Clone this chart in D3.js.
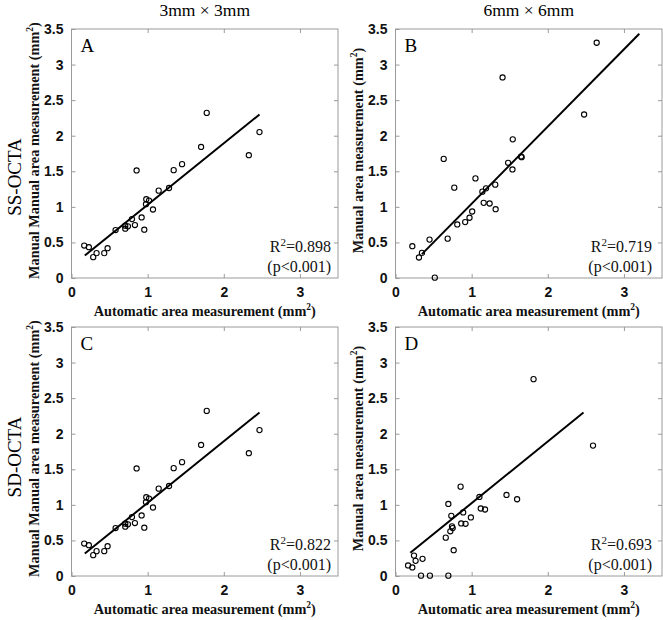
<!DOCTYPE html>
<html><head><meta charset="utf-8">
<script src="https://cdn.jsdelivr.net/npm/d3@7"></script>
<style>body{margin:0;background:#fff}svg{display:block}</style>
</head><body>
<svg id="c" width="663" height="620"></svg>
<script>
// ---------- data ----------
const xTicks = [0, 1, 2, 3];
const yTicks = [0, 0.5, 1, 1.5, 2, 2.5, 3, 3.5];
const columnTitles = ["3mm \u00d7 3mm", "6mm \u00d7 6mm"];
const rowTitles = ["SS-OCTA", "SD-OCTA"];
const panelLetters = ["A", "B", "C", "D"];
const r2Values = ["0.898", "0.719", "0.822", "0.693"];
const pValues = ["(p<0.001)", "(p<0.001)", "(p<0.001)", "(p<0.001)"];
const yTitles = ["Manual Manual area measurement (mm", "Manual area measurement (mm",
                 "Manual Manual area measurement (mm", "Manual area measurement (mm"];
const xTitle = "Automatic area measurement (mm";

const pointsA = [[0.167,0.456],[0.228,0.433],[0.285,0.293],[0.329,0.349],[0.43,0.349],[0.474,0.419],
  [0.579,0.674],[0.706,0.693],[0.706,0.735],[0.741,0.726],[0.794,0.828],[0.833,0.744],[0.855,1.512],
  [0.921,0.851],[0.956,0.679],[0.978,1.037],[0.982,1.107],[1.018,1.088],[1.07,0.963],[1.145,1.228],
  [1.281,1.265],[1.342,1.516],[1.452,1.6],[1.702,1.842],[1.776,2.321],[2.329,1.726],[2.469,2.051]];
const pointsB = [[0.221,0.447],[0.308,0.288],[0.347,0.353],[0.447,0.54],[0.516,0.005],[0.633,1.674],
  [0.685,0.553],[0.772,1.27],[0.811,0.753],[0.915,0.786],[0.972,0.847],[1.007,0.935],[1.05,1.4],
  [1.141,1.214],[1.158,1.056],[1.189,1.26],[1.236,1.047],[1.31,1.312],[1.315,0.967],[1.406,2.819],
  [1.479,1.619],[1.536,1.526],[1.54,1.949],[1.649,1.707],[1.657,1.698],[2.477,2.298],[2.642,3.307]];
const pointsC = [[0.167,0.456],[0.228,0.433],[0.285,0.293],[0.329,0.349],[0.43,0.349],[0.474,0.419],
  [0.579,0.674],[0.706,0.693],[0.706,0.735],[0.741,0.726],[0.794,0.828],[0.833,0.744],[0.855,1.512],
  [0.921,0.851],[0.956,0.679],[0.978,1.037],[0.982,1.107],[1.018,1.088],[1.07,0.963],[1.145,1.228],
  [1.281,1.265],[1.342,1.516],[1.452,1.6],[1.702,1.842],[1.776,2.321],[2.329,1.726],[2.469,2.051]];
const pointsD = [[0.165,0.148],[0.221,0.12],[0.243,0.287],[0.264,0.213],[0.335,0.005],[0.355,0.241],
  [0.452,0.005],[0.66,0.539],[0.694,0.005],[0.694,1.013],[0.72,0.628],[0.733,0.846],[0.742,0.698],
  [0.751,0.674],[0.764,0.363],[0.855,1.256],[0.863,0.739],[0.889,0.893],[0.92,0.734],[0.99,0.823],
  [1.102,1.111],[1.12,0.949],[1.176,0.935],[1.458,1.139],[1.597,1.079],[1.813,2.767],[2.594,1.833]];

// fitted regression line end points [x, y]
const lineA = [[0.175,0.316],[2.469,2.298]];
const lineB = [[0.347,0.335],[3.202,3.433]];
const lineC = [[0.175,0.316],[2.469,2.298]];
const lineD = [[0.195,0.326],[2.469,2.298]];

const panelPoints = [pointsA, pointsB, pointsC, pointsD];
const panelLines = [lineA, lineB, lineC, lineD];

// ---------- layout ----------
const colX = [71.5, 395.5];
const plotW = 266.5;
const rowY = [29, 327];
const plotH = 249;

const svg = d3.select("#c");
const serif = "'Liberation Serif','Times New Roman',serif";
const sans = "'Liberation Sans',Arial,sans-serif";
const frameCol = "#9a9a9a";

// column titles
columnTitles.forEach((t, i) => {
  svg.append("text").attr("x", colX[i] + plotW / 2).attr("y", 16)
    .attr("text-anchor", "middle").style("font-family", serif).style("font-size", "17.5px")
    .text(t);
});
// row titles
rowTitles.forEach((t, i) => {
  const cy = rowY[i] + [148, 130][i];
  svg.append("text").attr("transform", `translate(21,${cy}) rotate(-90)`)
    .attr("text-anchor", "middle").style("font-family", serif).style("font-size", "19px")
    .text(t);
});

panelPoints.forEach((pts, k) => {
  const col = k % 2, row = Math.floor(k / 2);
  const g = svg.append("g").attr("transform", `translate(${colX[col]},${rowY[row]})`);
  const x = d3.scaleLinear().domain([0, 3.5]).range([0, plotW]);
  const y = d3.scaleLinear().domain([0, 3.5]).range([plotH, 0]);

  // frame
  g.append("rect").attr("x", 0).attr("y", 0).attr("width", plotW).attr("height", plotH)
    .attr("fill", "none").attr("stroke", frameCol).attr("stroke-width", 1);

  const styleAxis = (sel, labels) => {
    sel.select(".domain").remove();
    sel.selectAll(".tick line").attr("stroke", frameCol);
    sel.selectAll(".tick text").style("font-family", sans).style("font-weight", "bold")
      .style("font-size", "14px").attr("fill", "#111");
    if (!labels) sel.selectAll(".tick text").remove();
  };
  g.append("g").attr("transform", `translate(0,${plotH})`)
    .call(d3.axisBottom(x).tickValues(xTicks).tickSizeInner(-4).tickSizeOuter(0).tickPadding(9)
      .tickFormat(d3.format("d")))
    .call(s => styleAxis(s, true));
  g.append("g")
    .call(d3.axisTop(x).tickValues(xTicks.filter(v => v > 0)).tickSizeInner(-4).tickSizeOuter(0))
    .call(s => styleAxis(s, false));
  g.append("g")
    .call(d3.axisLeft(y).tickValues(yTicks).tickSizeInner(-4).tickSizeOuter(0).tickPadding(8)
      .tickFormat(d => d3.format("")(d)))
    .call(s => styleAxis(s, true));
  g.append("g").attr("transform", `translate(${plotW},0)`)
    .call(d3.axisRight(y).tickValues(yTicks.filter(v => v > 0 && v < 3.5)).tickSizeInner(-4).tickSizeOuter(0))
    .call(s => styleAxis(s, false));

  // x title
  const xt = g.append("text").attr("x", plotW / 2).attr("y", plotH + 38)
    .attr("text-anchor", "middle").style("font-family", serif).style("font-weight", "bold")
    .style("font-size", "14.3px").attr("fill", "#111");
  xt.append("tspan").text(xTitle);
  xt.append("tspan").attr("dy", -6).style("font-size", "9.5px").text("2");
  xt.append("tspan").attr("dy", 6).text(")");

  // y title
  const yt = g.append("text").attr("transform", `translate(-33,${plotH / 2 - 3}) rotate(-90)`)
    .attr("text-anchor", "middle").style("font-family", serif).style("font-weight", "bold")
    .style("font-size", "14.3px").attr("fill", "#111");
  yt.append("tspan").text(yTitles[k]);
  yt.append("tspan").attr("dy", -6).style("font-size", "9.5px").text("2");
  yt.append("tspan").attr("dy", 6).text(")");

  // panel letter
  g.append("text").attr("x", 9).attr("y", 23).style("font-family", serif)
    .style("font-size", "19px").text(panelLetters[k]);

  // regression line
  g.append("path").datum(panelLines[k])
    .attr("d", d3.line().x(d => x(d[0])).y(d => y(d[1])))
    .attr("stroke", "#000").attr("stroke-width", 2).attr("fill", "none");

  // points
  g.selectAll("circle.pt").data(pts).join("circle").attr("class", "pt")
    .attr("cx", d => x(d[0])).attr("cy", d => y(d[1])).attr("r", 2.6)
    .attr("fill", "none").attr("stroke", "#000").attr("stroke-width", 1.1);

  // R2 text
  const rx = plotW - [7, 10][col];
  const rt = g.append("text").attr("x", rx).attr("y", plotH - 26).attr("text-anchor", "end")
    .style("font-family", serif).style("font-size", "16px").attr("fill", "#111");
  rt.append("tspan").text("R");
  rt.append("tspan").attr("dy", -6).style("font-size", "11px").text("2");
  rt.append("tspan").attr("dy", 6).text("=" + r2Values[k]);
  g.append("text").attr("x", rx).attr("y", plotH - 6).attr("text-anchor", "end")
    .style("font-family", serif).style("font-size", "16px").attr("fill", "#111").text(pValues[k]);
});
</script>
</body></html>
